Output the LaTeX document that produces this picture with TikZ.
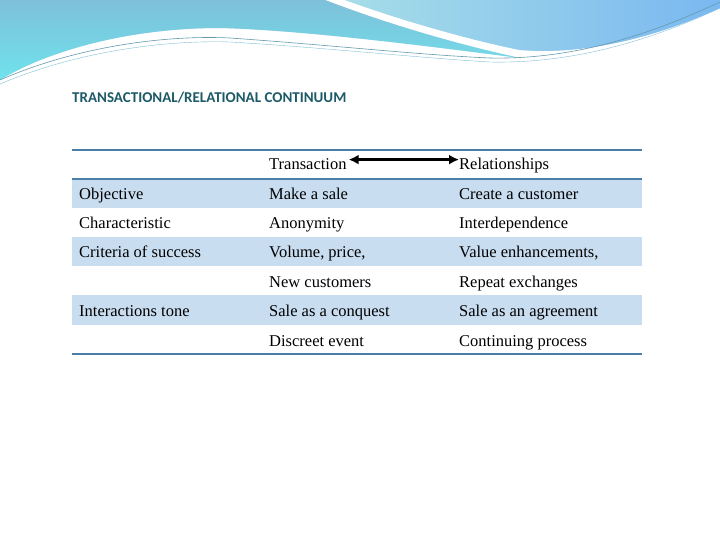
\documentclass[tikz,border=0pt]{standalone}
\usepackage{fontspec}
\usetikzlibrary{arrows.meta}
\setmainfont{Liberation Serif}
\newfontfamily\titlefont{Carlito}
\begin{document}
\begin{tikzpicture}[x=1pt,y=-1pt,
  cell/.style={anchor=base west,inner xsep=0pt,font=\fontsize{16.5}{18}\selectfont},
  rule/.style={draw=rulec,line width=1.6pt},
  shade/.style={fill=rowc}]
\definecolor{rulec}{HTML}{4A7FAA}
\definecolor{rowc}{HTML}{C9DDF0}
\definecolor{titlec}{HTML}{1D5A68}
\definecolor{waveA}{HTML}{7EC0DA}
\definecolor{waveB}{HTML}{6FE3EC}
\definecolor{waveC}{HTML}{A6DDE8}
\definecolor{waveD}{HTML}{7AB8F0}
\useasboundingbox (0,0) rectangle (720,540);
\fill[white] (0,0) rectangle (720,540);
% top decoration
\shade[top color=waveA,bottom color=waveB]
  (0,0) -- (325,0) .. controls (390,25) and (460,45) .. (520,58)
  .. controls (420,45) and (300,30) .. (220,28)
  .. controls (120,28) and (40,55) .. (0,80) -- cycle;
\shade[left color=waveC,right color=waveD]
  (345,0) -- (720,0) -- (720,8) .. controls (650,40) and (580,55) .. (520,50)
  .. controls (470,40) and (400,20) .. (345,0) -- cycle;
\draw[waveA!80!black,line width=0.6pt] (0,80) .. controls (80,45) and (170,35) .. (230,38)
  .. controls (330,45) and (420,55) .. (490,58) .. controls (580,60) and (660,30) .. (720,2);
\draw[waveA,line width=0.4pt] (0,84) .. controls (80,50) and (170,40) .. (230,42)
  .. controls (330,48) and (420,58) .. (490,62) .. controls (580,64) and (660,36) .. (720,8);
% title
\node[anchor=base west,inner xsep=0pt,font=\titlefont\bfseries\fontsize{15}{17}\selectfont,text=titlec] (title) at (72,103) {TRANSACTIONAL/RELATIONAL CONTINUUM};
% rows shading
\path[shade] (72,179) rectangle (642,208);
\path[shade] (72,237) rectangle (642,266);
\path[shade] (72,295) rectangle (642,325);
\draw[rule] (72,150) -- (642,150);
\draw[rule] (72,179) -- (642,179);
\draw[rule] (72,354) -- (642,354);
% header
\node[cell] (h1) at (269,170) {Transaction};
\node[cell] (h2) at (459,170) {Relationships};
\draw[line width=2.4pt,{Latex[length=10pt,width=10pt]}-{Latex[length=10pt,width=10pt]}] (h1.east) ++(2,-5) coordinate (aL) -- (aL -| h2.west);
% body
\node[cell] (r1a) at (79,200) {Objective};
\node[cell] (r1b) at (269,200) {Make a sale};
\node[cell] (r1c) at (459,200) {Create a customer};
\node[cell] (r2a) at (79,229) {Characteristic};
\node[cell] (r2b) at (269,229) {Anonymity};
\node[cell] (r2c) at (459,229) {Interdependence};
\node[cell] (r3a) at (79,258) {Criteria of success};
\node[cell] (r3b) at (269,258) {Volume, price,};
\node[cell] (r3c) at (459,258) {Value enhancements,};
\node[cell] (r4b) at (269,287) {New customers};
\node[cell] (r4c) at (459,287) {Repeat exchanges};
\node[cell] (r5a) at (79,316) {Interactions tone};
\node[cell] (r5b) at (269,316) {Sale as a conquest};
\node[cell] (r5c) at (459,316) {Sale as an agreement};
\node[cell] (r6b) at (269,346) {Discreet event};
\node[cell] (r6c) at (459,346) {Continuing process};
\end{tikzpicture}
\end{document}
